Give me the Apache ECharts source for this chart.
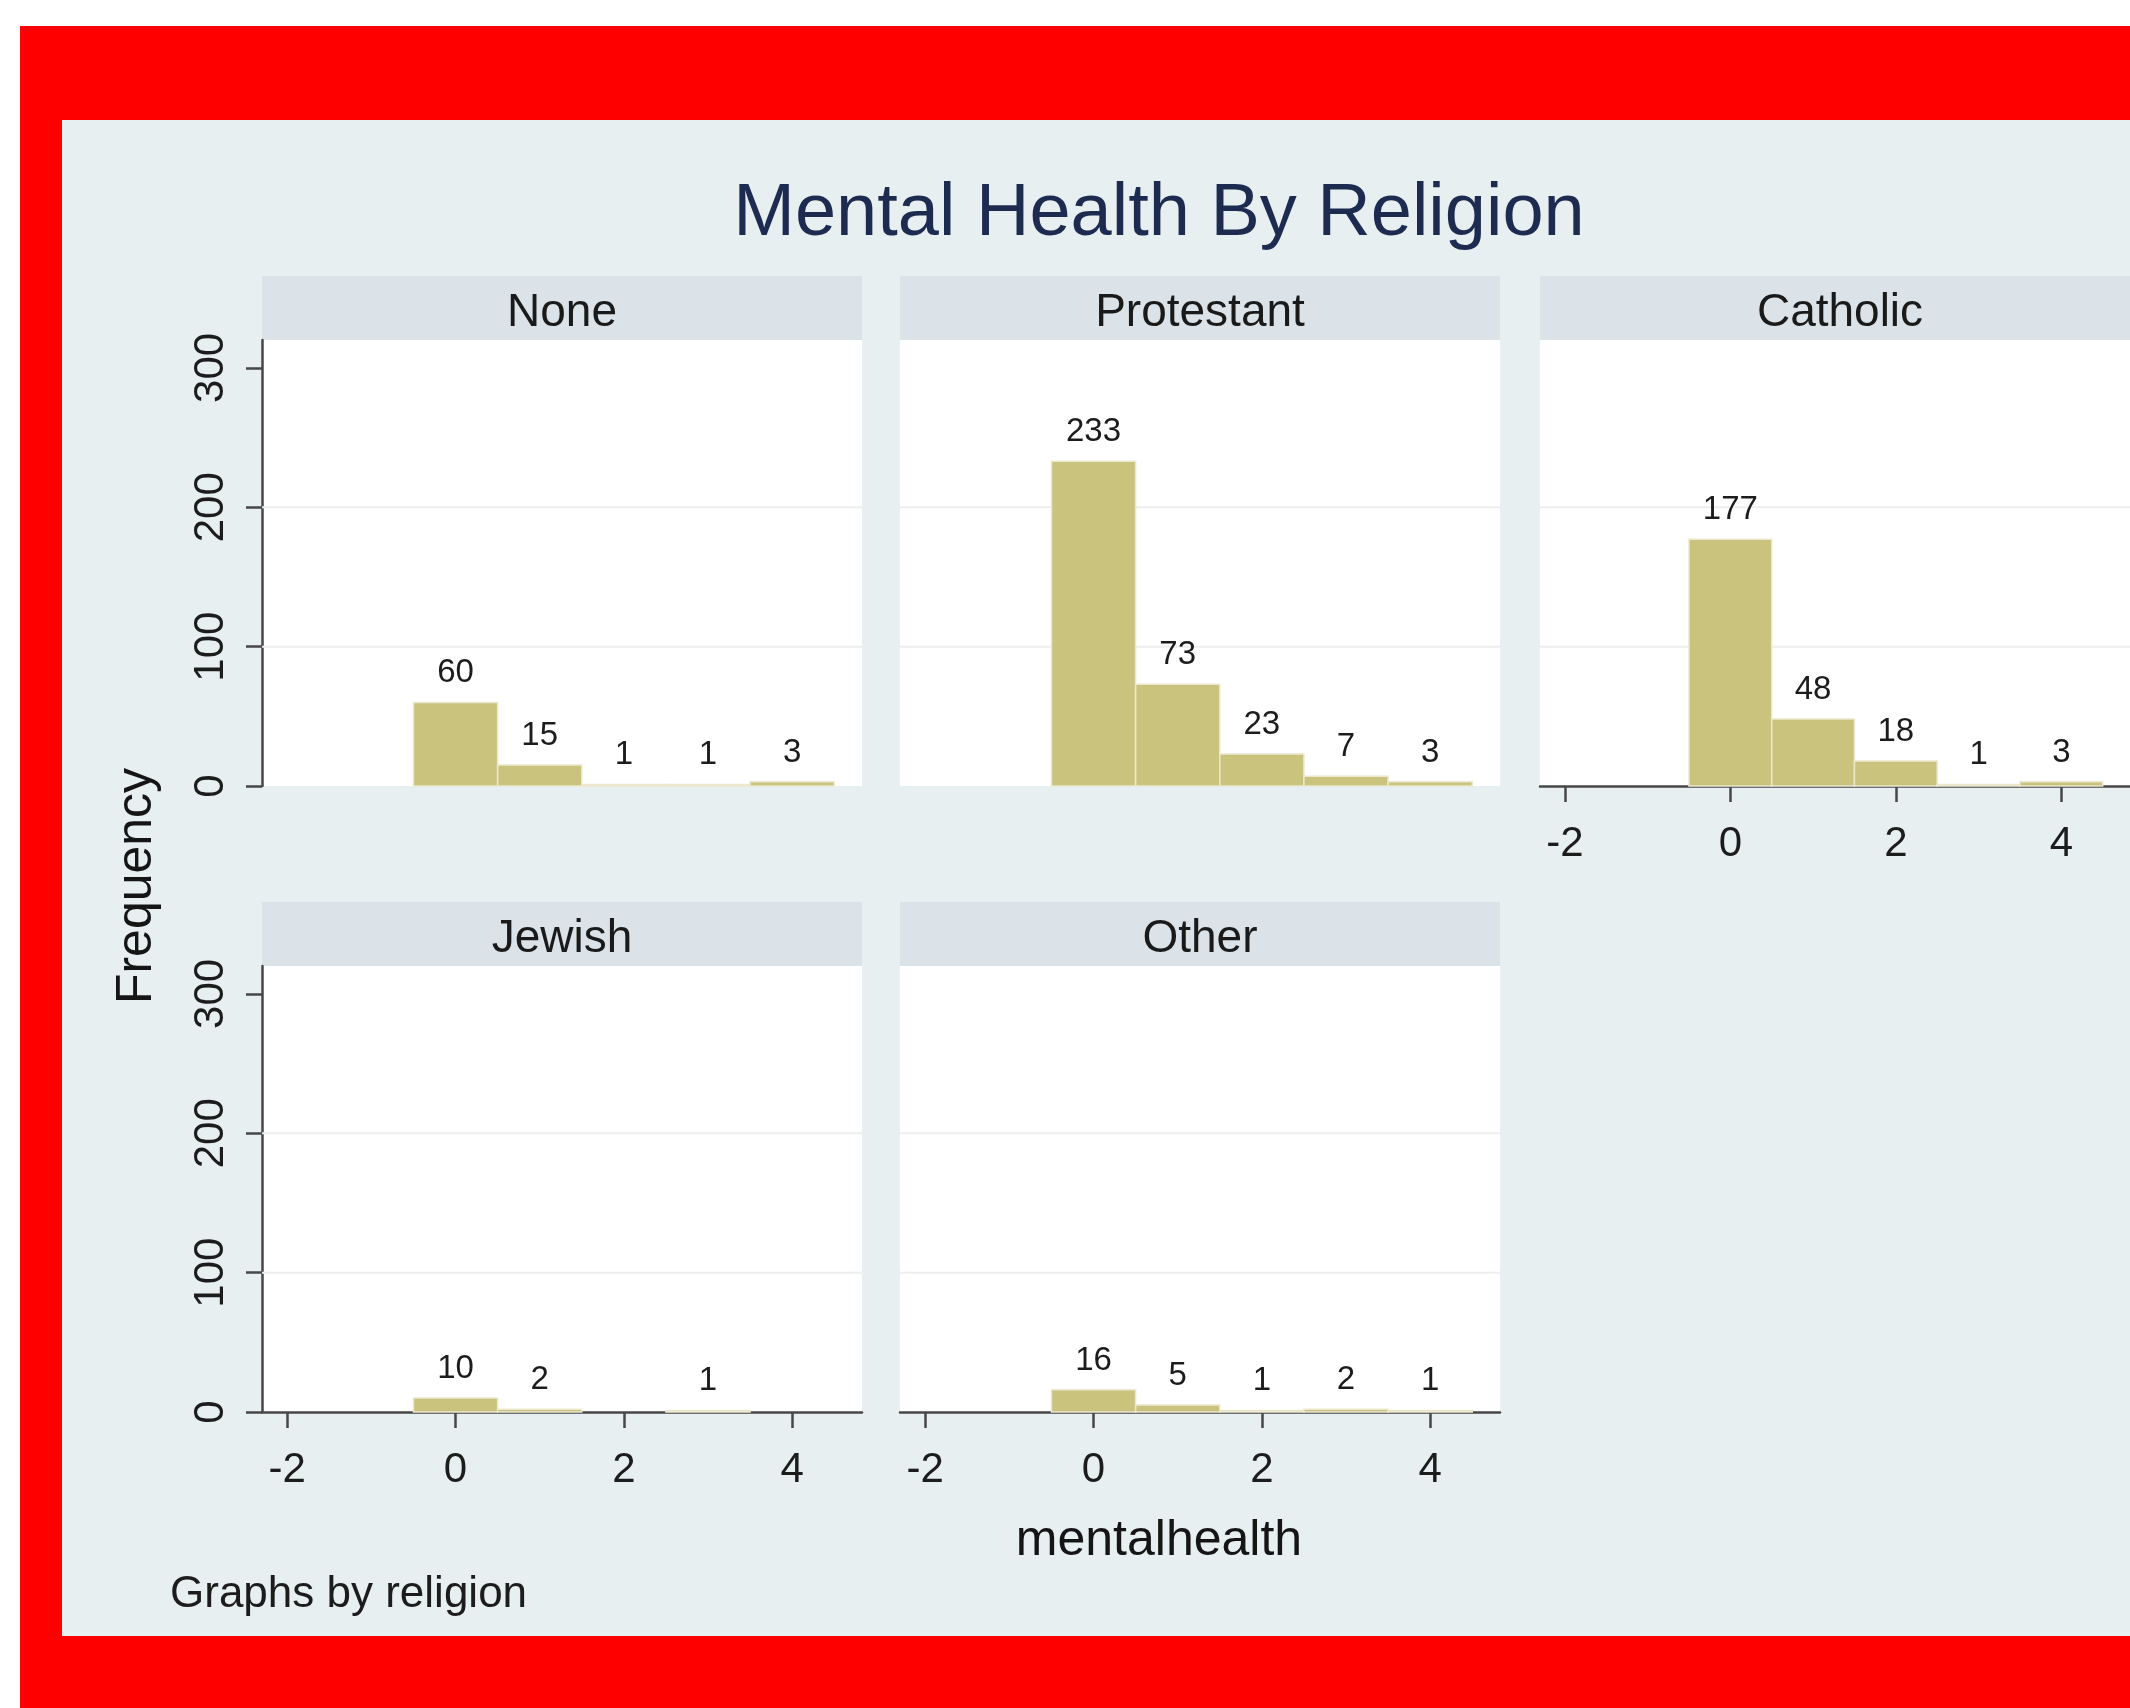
<!DOCTYPE html>
<html>
<head>
<meta charset="utf-8">
<title>Mental Health By Religion</title>
<script src="https://cdn.jsdelivr.net/npm/echarts@6/dist/echarts.min.js"></script>
<style>
	html, body { margin: 0; padding: 0; background: #fff; }
	#container { width: 2130px; height: 1708px; }
</style>
</head>
<body>
<div id="container"></div>
<script>
// data
var religions = ['None', 'Protestant', 'Catholic', 'Jewish', 'Other'];
var bins = [0, 1, 2, 3, 4];
var countsNone = [60, 15, 1, 1, 3];
var countsProtestant = [233, 73, 23, 7, 3];
var countsCatholic = [177, 48, 18, 1, 3];
var countsJewish = [10, 2, null, 1, null];
var countsOther = [16, 5, 1, 2, 1];
var yTicks = [0, 100, 200, 300];
var yGrid = [100, 200];
var xTicks = [-2, 0, 2, 4];

var allCounts = [countsNone, countsProtestant, countsCatholic, countsJewish, countsOther];

// layout
var colLeft = [262, 900, 1540];
var rowTop = [340, 966];
var plotW = 600, plotH = 446, stripH = 64;
var font = '"Liberation Sans", Arial, sans-serif';
var barColor = '#cac37e';
var axisColor = '#474747';

var dom = document.getElementById('container');
var myChart = echarts.init(dom);

function renderBar(params, api) {
	var x = api.value(0);
	var y = api.value(1);
	var p0 = api.coord([x - 0.5, y]);
	var p1 = api.coord([x + 0.5, 0]);
	return {
		type: 'rect',
		shape: { x: p0[0], y: p0[1], width: p1[0] - p0[0], height: p1[1] - p0[1] },
		style: { fill: barColor, stroke: '#ebe8cf', lineWidth: 1.5 },
		textContent: {
			type: 'text',
			style: { text: String(y), fontSize: 33, fontFamily: font, fill: '#1c1c1c' }
		},
		textConfig: { position: 'top', distance: 12 }
	};
}

// faint horizontal grid lines at 100 and 200
function renderGrid(params, api) {
	var cs = params.coordSys;
	var y = api.coord([0, api.value(1)])[1];
	return {
		type: 'line',
		shape: { x1: cs.x, y1: y, x2: cs.x + cs.width, y2: y },
		style: { stroke: '#eeeeee', lineWidth: 2 }
	};
}

var grids = [], xAxes = [], yAxes = [], series = [];
var graphics = [
	// red frame and grey graph region
	{ type: 'rect', z: -10, shape: { x: 20, y: 26, width: 2110, height: 1682 }, style: { fill: '#ff0000' } },
	{ type: 'rect', z: -9, shape: { x: 62, y: 120, width: 2068, height: 1516 }, style: { fill: '#e8eff1' } },
	{
		type: 'text', x: 1159, y: 215,
		style: { text: 'Mental Health By Religion', font: '74px ' + font, fill: '#1d2b50', align: 'center', verticalAlign: 'middle' }
	},
	{
		type: 'text', x: 137, y: 886, rotation: Math.PI / 2,
		style: { text: 'Frequency', font: '50px ' + font, fill: '#151515', align: 'center', verticalAlign: 'middle' }
	},
	{
		type: 'text', x: 1159, y: 1541,
		style: { text: 'mentalhealth', font: '50px ' + font, fill: '#151515', align: 'center', verticalAlign: 'middle' }
	},
	{
		type: 'text', x: 170, y: 1595,
		style: { text: 'Graphs by religion', font: '44px ' + font, fill: '#1c1c1c', align: 'left', verticalAlign: 'middle' }
	}
];

for (var i = 0; i < religions.length; i++) {
	var row = i < 3 ? 0 : 1;
	var col = i % 3;
	var gLeft = colLeft[col];
	var gTop = rowTop[row];
	var hasX = i >= 2;
	var hasY = col === 0;

	grids.push({
		left: gLeft, top: gTop, width: plotW, height: plotH,
		show: true, backgroundColor: '#ffffff', borderWidth: 0
	});

	// strip with the group name
	graphics.push({
		type: 'rect', shape: { x: gLeft, y: gTop - stripH, width: plotW, height: stripH },
		style: { fill: '#dbe3e8' }
	});
	graphics.push({
		type: 'text', x: gLeft + plotW / 2, y: gTop - stripH / 2 + 5,
		style: { text: religions[i], font: '46px ' + font, fill: '#1a1a1a', align: 'center', verticalAlign: 'middle' }
	});

	xAxes.push({
		gridIndex: i,
		type: 'value',
		min: -2.3,
		max: 4.83,
		show: hasX,
		axisLine: { show: true, onZero: false, lineStyle: { color: axisColor, width: 2.5 } },
		axisTick: { show: true, customValues: xTicks, length: 16, lineStyle: { color: axisColor, width: 2.5 } },
		axisLabel: { customValues: xTicks, margin: 37, fontSize: 42, fontFamily: font, color: '#1c1c1c' },
		splitLine: { show: false }
	});

	yAxes.push({
		gridIndex: i,
		type: 'value',
		min: 0,
		max: 320,
		show: hasY,
		axisLine: { show: true, onZero: false, lineStyle: { color: axisColor, width: 2.5 } },
		axisTick: { show: true, customValues: yTicks, length: 16, lineStyle: { color: axisColor, width: 2.5 } },
		axisLabel: { customValues: yTicks, rotate: 90, margin: 30, fontSize: 42, fontFamily: font, color: '#1c1c1c' },
		splitLine: { show: false }
	});

	var data = [];
	for (var k = 0; k < bins.length; k++) {
		if (allCounts[i][k] != null) data.push([bins[k], allCounts[i][k]]);
	}

	series.push({
		type: 'custom',
		name: religions[i] + ' grid',
		xAxisIndex: i,
		yAxisIndex: i,
		z: 1,
		silent: true,
		renderItem: renderGrid,
		data: yGrid.map(function(v) { return [0, v]; })
	});

	series.push({
		type: 'custom',
		name: religions[i],
		xAxisIndex: i,
		yAxisIndex: i,
		z: 2,
		renderItem: renderBar,
		data: data
	});
}

var option = {
	animation: false,
	backgroundColor: '#ffffff',
	graphic: graphics,
	grid: grids,
	xAxis: xAxes,
	yAxis: yAxes,
	series: series
};
myChart.setOption(option, true);
</script>
</body>
</html>
